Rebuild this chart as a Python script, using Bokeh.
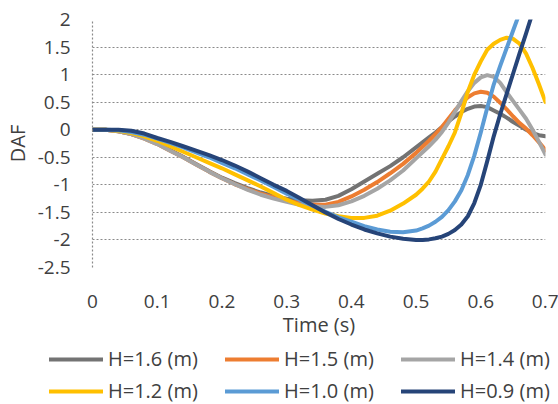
from bokeh.plotting import figure
from bokeh.models import Range1d, FixedTicker, Legend, LegendItem
from bokeh.layouts import column
from bokeh.embed import file_html
from bokeh.resources import INLINE

# ---- data ----
t = [0.00, 0.02, 0.04, 0.06, 0.08, 0.10, 0.12, 0.14, 0.16, 0.18,
     0.20, 0.22, 0.24, 0.26, 0.28, 0.30, 0.32, 0.34, 0.36, 0.38,
     0.40, 0.42, 0.44, 0.46, 0.48, 0.50, 0.51, 0.52, 0.53, 0.54,
     0.55, 0.56, 0.57, 0.58, 0.59, 0.60, 0.61, 0.62, 0.63, 0.64,
     0.65, 0.66, 0.67, 0.68, 0.69, 0.70]

h16 = [0, 0, -0.03, -0.08, -0.15, -0.25, -0.37, -0.49, -0.62, -0.75,
       -0.87, -0.97, -1.06, -1.14, -1.20, -1.25, -1.28, -1.29, -1.27, -1.20,
       -1.08, -0.94, -0.80, -0.66, -0.50, -0.32, -0.23, -0.14, -0.05, 0.05,
       0.15, 0.24, 0.32, 0.38, 0.42, 0.43, 0.41, 0.35, 0.29, 0.22,
       0.14, 0.07, 0.00, -0.06, -0.10, -0.12]
h15 = [0, 0, -0.03, -0.08, -0.16, -0.26, -0.38, -0.50, -0.63, -0.76,
       -0.88, -0.99, -1.08, -1.16, -1.23, -1.29, -1.33, -1.36, -1.36, -1.31,
       -1.21, -1.09, -0.95, -0.79, -0.62, -0.42, -0.31, -0.20, -0.08, 0.05,
       0.20, 0.35, 0.48, 0.59, 0.66, 0.69, 0.67, 0.60, 0.49, 0.37,
       0.24, 0.12, 0.02, -0.10, -0.23, -0.37]
h14 = [0, 0, -0.03, -0.08, -0.16, -0.26, -0.38, -0.50, -0.63, -0.76,
       -0.88, -0.99, -1.09, -1.18, -1.25, -1.31, -1.36, -1.39, -1.40, -1.37,
       -1.30, -1.20, -1.07, -0.92, -0.74, -0.52, -0.41, -0.30, -0.18, -0.04,
       0.13, 0.32, 0.52, 0.70, 0.85, 0.95, 0.99, 0.96, 0.85, 0.68,
       0.52, 0.36, 0.20, 0.00, -0.22, -0.45]
h12 = [0, 0, -0.02, -0.06, -0.12, -0.20, -0.30, -0.40, -0.50, -0.60,
       -0.70, -0.81, -0.92, -1.03, -1.15, -1.27, -1.37, -1.45, -1.52, -1.57,
       -1.60, -1.60, -1.56, -1.47, -1.34, -1.18, -1.07, -0.94, -0.76, -0.53,
       -0.30, -0.05, 0.30, 0.69, 1.00, 1.24, 1.45, 1.56, 1.63, 1.67,
       1.65, 1.56, 1.38, 1.12, 0.82, 0.50]
h10 = [0, 0, -0.01, -0.04, -0.09, -0.16, -0.24, -0.32, -0.41, -0.50,
       -0.60, -0.70, -0.81, -0.92, -1.04, -1.16, -1.27, -1.38, -1.49, -1.59,
       -1.67, -1.75, -1.81, -1.85, -1.86, -1.83, -1.79, -1.74, -1.67, -1.58,
       -1.46, -1.30, -1.10, -0.82, -0.47, -0.05, 0.40, 0.82, 1.16, 1.48,
       1.80, 2.12, 2.44, 2.76, 3.08, 3.40]
h09 = [0, 0, 0, -0.02, -0.07, -0.15, -0.22, -0.30, -0.38, -0.46,
       -0.55, -0.65, -0.76, -0.88, -1.00, -1.11, -1.24, -1.37, -1.50, -1.62,
       -1.72, -1.81, -1.88, -1.94, -1.98, -2.00, -2.00, -1.99, -1.97, -1.94,
       -1.89, -1.82, -1.72, -1.57, -1.33, -1.00, -0.57, -0.12, 0.28, 0.65,
       1.02, 1.39, 1.75, 2.12, 2.48, 2.85]

series_names = ["H=1.6 (m)", "H=1.5 (m)", "H=1.4 (m)", "H=1.2 (m)", "H=1.0 (m)", "H=0.9 (m)"]
series_values = [h16, h15, h14, h12, h10, h09]
series_colors = ["#737373", "#ED7D31", "#A5A5A5", "#FFC000", "#5B9BD5", "#264478"]

x_ticks = [0, 0.1, 0.2, 0.3, 0.4, 0.5, 0.6, 0.7]
x_tick_labels = ["0", "0.1", "0.2", "0.3", "0.4", "0.5", "0.6", "0.7"]
y_ticks = [-2.5, -2, -1.5, -1, -0.5, 0, 0.5, 1, 1.5, 2]
y_tick_labels = ["-2.5", "-2", "-1.5", "-1", "-0.5", "0", "0.5", "1", "1.5", "2"]

FONT = "Open Sans"
TXT = "#404040"

p = figure(width=558, height=340, output_backend="svg", toolbar_location=None,
           x_range=Range1d(0, 0.7), y_range=Range1d(-2.5, 2),
           min_border_left=90, min_border_right=13, min_border_top=19,
           min_border_bottom=69)
p.outline_line_color = None
p.background_fill_color = "white"
p.border_fill_color = "white"

# grid
p.xgrid.visible = False
p.ygrid.ticker = FixedTicker(ticks=y_ticks)
p.ygrid.grid_line_color = "#8a8a8a"
p.ygrid.grid_line_dash = "2 2"
p.ygrid.grid_line_width = 1.2

# x axis
xa = p.xaxis[0]
xa.ticker = FixedTicker(ticks=x_ticks)
xa.major_label_overrides = dict(zip(x_ticks, x_tick_labels))
xa.axis_line_color = None
xa.major_tick_line_color = None
xa.minor_tick_line_color = None
xa.major_label_standoff = 21
xa.major_label_text_font = FONT
xa.major_label_text_font_size = "19px"
xa.major_label_text_color = TXT
xa.axis_label = "Time (s)"
xa.axis_label_text_font = FONT
xa.axis_label_text_font_size = "20px"
xa.axis_label_text_font_style = "normal"
xa.axis_label_text_color = TXT
xa.axis_label_standoff = 0

# y axis
ya = p.yaxis[0]
ya.ticker = FixedTicker(ticks=y_ticks)
ya.major_label_overrides = dict(zip(y_ticks, y_tick_labels))
ya.axis_line_color = "#8a8a8a"
ya.axis_line_dash = "2 2"
ya.axis_line_width = 1.2
ya.major_tick_line_color = None
ya.minor_tick_line_color = None
ya.major_label_standoff = 16
ya.major_label_text_font = FONT
ya.major_label_text_font_size = "19px"
ya.major_label_text_color = TXT
ya.axis_label = "DAF"
ya.axis_label_text_font = FONT
ya.axis_label_text_font_size = "20px"
ya.axis_label_text_font_style = "normal"
ya.axis_label_text_color = TXT
ya.axis_label_standoff = 4

for name, vals, col in zip(series_names, series_values, series_colors):
    p.line(t, vals, line_color=col, line_width=4, line_cap="round", line_join="round")

# ---- legend strip (same series; its ranges keep the lines out of view) ----
lg = figure(width=558, height=64, output_backend="svg", toolbar_location=None,
            x_range=Range1d(10, 11), y_range=Range1d(10, 11), min_border=0,
            x_axis_location=None, y_axis_location=None)
lg.grid.visible = False
lg.outline_line_color = None
lg.background_fill_color = "white"
lg.border_fill_color = "white"

can_unalign = "frame_align" in lg.properties()
if can_unalign:
    lg.frame_align = False
    p.frame_align = False

items = []
for name, vals, col in zip(series_names, series_values, series_colors):
    r = lg.line(t, vals, line_color=col, line_width=4, line_cap="round")
    items.append(LegendItem(label=name, renderers=[r]))

if can_unalign:
    leg_loc, gw, lw = (49, 0), 54, 112
else:
    leg_loc, gw, lw = (0, 0), 40, 101

legend = Legend(items=items, orientation="horizontal", ncols=3,
                location=leg_loc, padding=0, margin=0, spacing=5,
                glyph_width=gw, glyph_height=24, label_height=24, label_width=lw,
                label_standoff=5, border_line_color=None, background_fill_alpha=0,
                label_text_font=FONT, label_text_font_size="20px",
                label_text_color=TXT)
lg.add_layout(legend, "center")

layout = column(p, lg, spacing=0)
open("out.html", "w").write(file_html(layout, INLINE))
